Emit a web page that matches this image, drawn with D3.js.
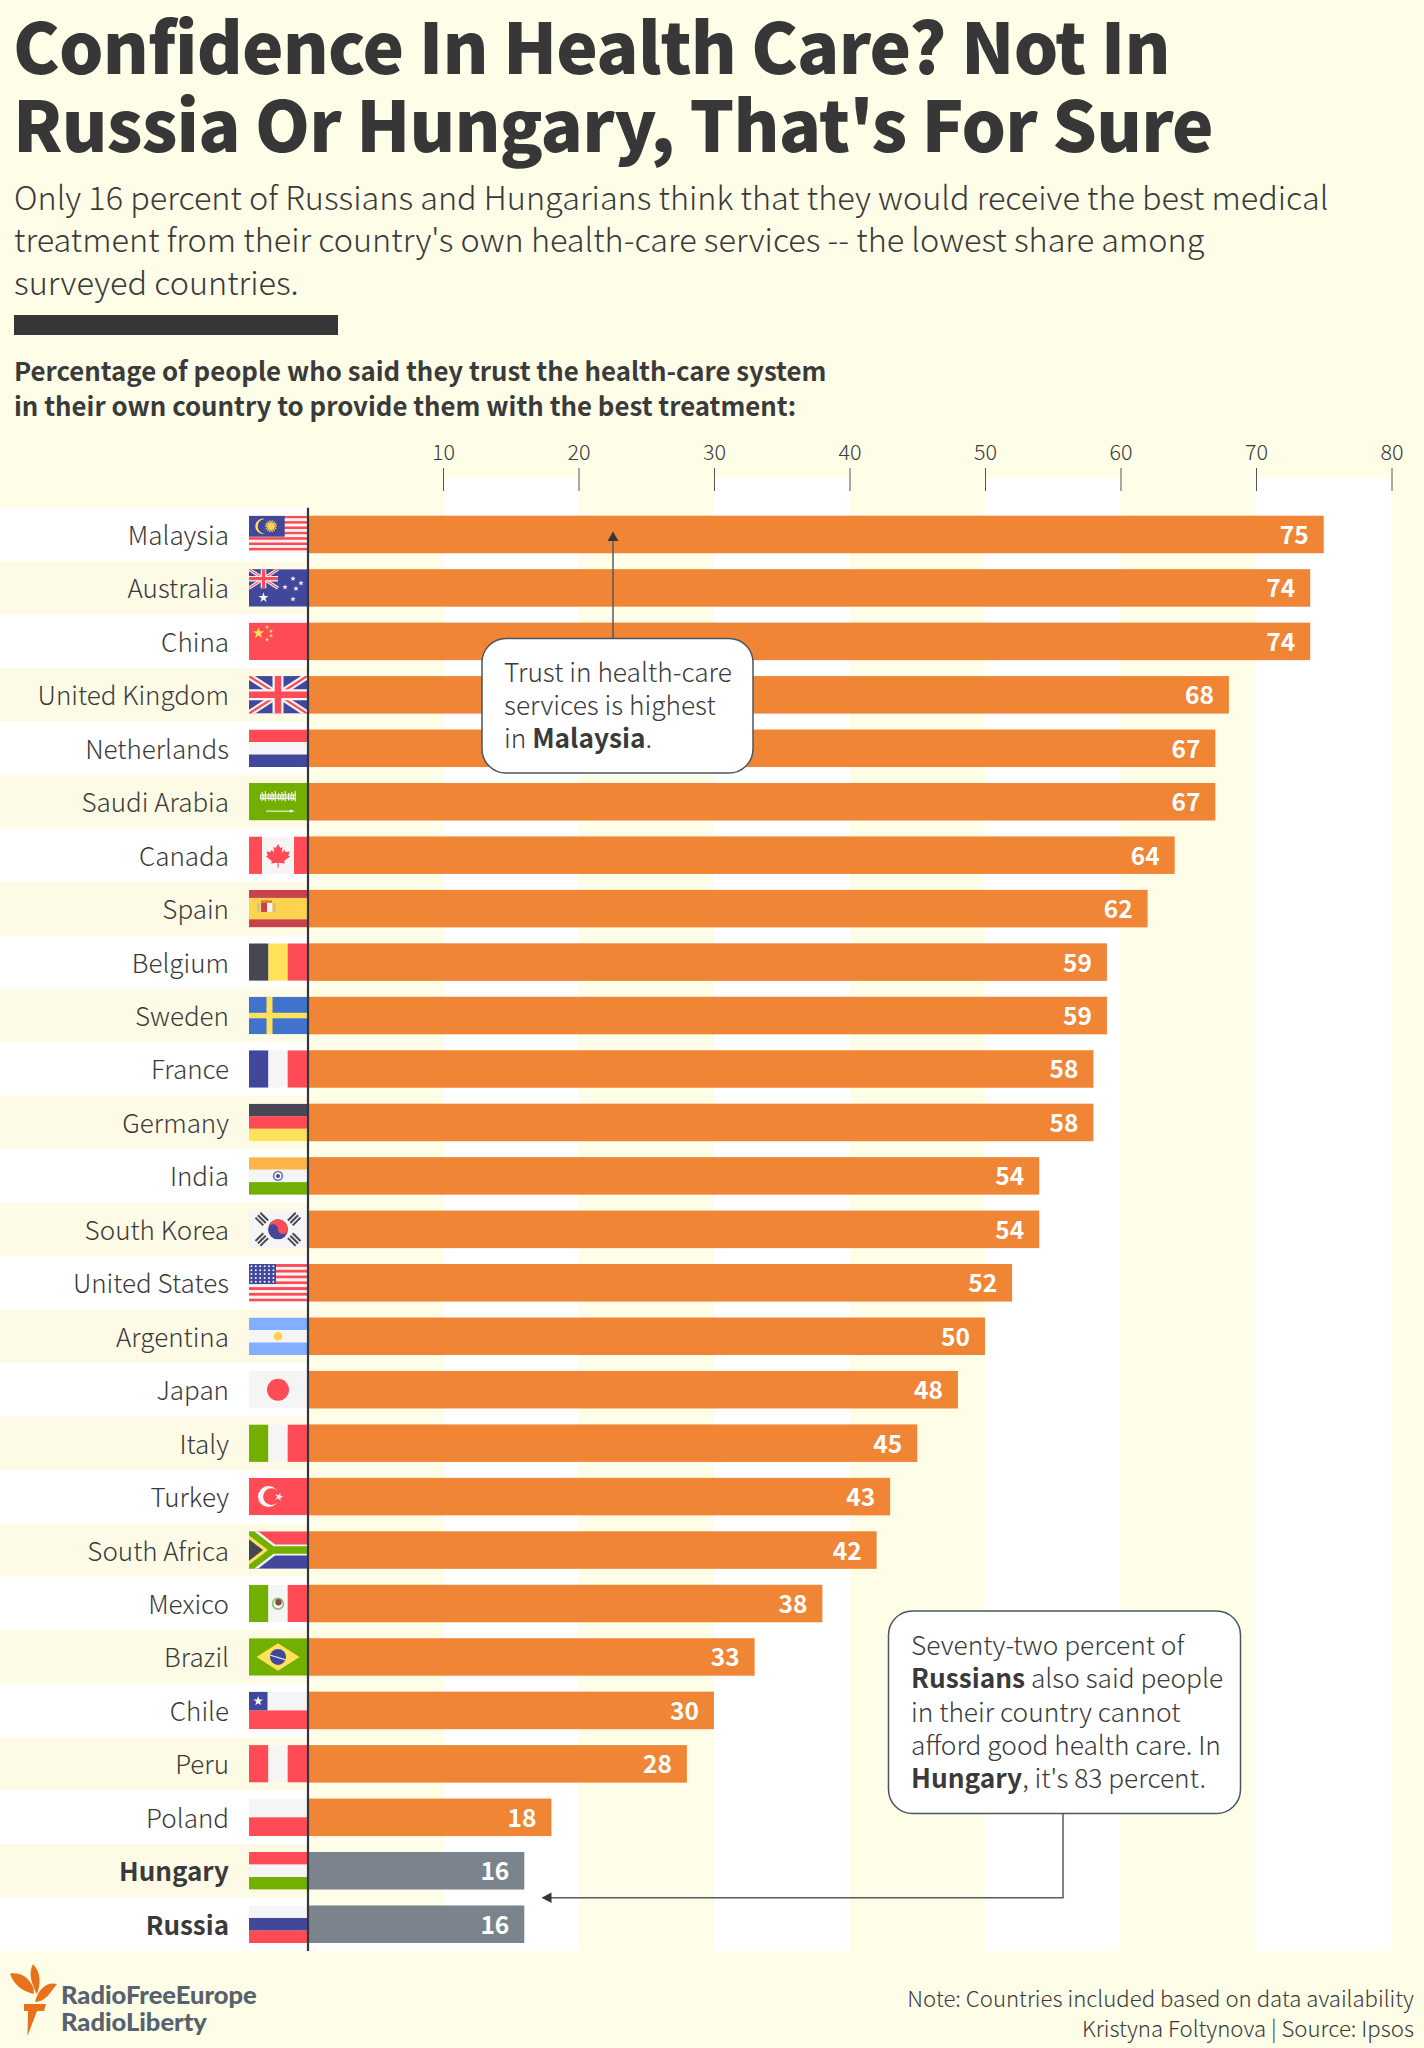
<!DOCTYPE html>
<html>
<head>
<meta charset="utf-8">
<script src="https://cdn.jsdelivr.net/npm/d3@7"></script>
<style>
  body { margin: 0; background: #fefde8; }
  text { font-family: "Noto Sans CJK SC", "Noto Sans", sans-serif; fill: #3a3a3a; }
  .light { font-weight: 300; }
  .strong { font-weight: 700; }
</style>
</head>
<body>
<div id="chart-area"></div>
<script>
// data
var countries = ["Malaysia","Australia","China","United Kingdom","Netherlands","Saudi Arabia","Canada","Spain","Belgium","Sweden","France","Germany","India","South Korea","United States","Argentina","Japan","Italy","Turkey","South Africa","Mexico","Brazil","Chile","Peru","Poland","Hungary","Russia"];
var values = [75,74,74,68,67,67,64,62,59,59,58,58,54,54,52,50,48,45,43,42,38,33,30,28,18,16,16];
var highlighted = ["Hungary","Russia"];
var ticks = [10,20,30,40,50,60,70,80];

var titleLines = ["Confidence In Health Care? Not In","Russia Or Hungary, That's For Sure"];
var subtitleLines = ["Only 16 percent of Russians and Hungarians think that they would receive the best medical","treatment from their country's own health-care services -- the lowest share among","surveyed countries."];
var headingLines = ["Percentage of people who said they trust the health-care system","in their own country to provide them with the best treatment:"];
var noteLines = ["Note: Countries included based on data availability","Kristyna Foltynova | Source: Ipsos"];
var note1 = [[["Trust in health-care",0]],[["services is highest",0]],[["in ",0],["Malaysia",1],[".",0]]];
var note2 = [[["Seventy-two percent of",0]],[["Russians",1],[" also said people",0]],[["in their country cannot",0]],[["afford good health care. In",0]],[["Hungary",1],[", it's 83 percent.",0]]];

var bg = "#fefde8", orange = "#ef8535", grey = "#7b838c", ink = "#3a3a3a";

var svg = d3.select("#chart-area").append("svg")
    .attr("width", 1424)
    .attr("height", 2048)
    .style("display", "block");

svg.append("rect").attr("width", 1424).attr("height", 2048).attr("fill", bg);

var x = d3.scaleLinear().domain([0, 80]).range([307.5, 1391.5]);
var y = d3.scaleBand().domain(countries).range([507.7, 1951]).paddingInner(0.298).paddingOuter(0.15);
var step = y.step();
var rowTop = (d) => y(d) - step * 0.149;

// header
svg.selectAll(".title").data(titleLines).enter().append("text")
    .attr("class", "title")
    .attr("x", 13)
    .attr("y", (d, i) => 74 + i * 78)
    .attr("font-size", 70)
    .attr("font-weight", 900)
    .attr("letter-spacing", -0.8)
    .style("fill", "#373737")
    .text((d) => d);

svg.selectAll(".sub").data(subtitleLines).enter().append("text")
    .attr("class", "sub light")
    .attr("x", 14)
    .attr("y", (d, i) => 209.5 + i * 42.7)
    .attr("font-size", 32.4)
    .text((d) => d);

svg.append("rect").attr("x", 14).attr("y", 315).attr("width", 324).attr("height", 20).attr("fill", "#373737");

svg.selectAll(".heading").data(headingLines).enter().append("text")
    .attr("class", "heading strong")
    .attr("x", 14)
    .attr("y", (d, i) => 381 + i * 34.5)
    .attr("font-size", 25.8)
    .text((d) => d);

// white column stripes, every other decade
svg.selectAll(".col").data(ticks.filter((d) => d % 20 == 0)).enter().append("rect")
    .attr("class", "col")
    .attr("x", (d) => x(d - 10))
    .attr("y", 478)
    .attr("width", (d) => x(d) - x(d - 10))
    .attr("height", 1951 - 478)
    .attr("fill", "#fff");

// label rows on the left
svg.selectAll(".row").data(countries).enter().append("rect")
    .attr("class", "row")
    .attr("x", 0)
    .attr("y", rowTop)
    .attr("width", 308)
    .attr("height", step)
    .attr("fill", (d, i) => i % 2 ? "#fdfbe6" : "#fff");

// under the last bar the first column is white too
svg.append("rect").attr("x", 308).attr("y", y("Russia") + y.bandwidth()).attr("width", x(10) - 308).attr("height", 1951 - y("Russia") - y.bandwidth()).attr("fill", "#fff");

// axis
var axis = svg.append("g")
    .attr("transform", "translate(0,491)")
    .call(d3.axisTop(x).tickValues(ticks).tickSize(23).tickPadding(8));
axis.select(".domain").remove();
axis.selectAll("line").attr("stroke", "#555");
axis.selectAll("text").attr("class", "light").attr("font-size", 21.5).style("fill", ink).style("font-family", null);

// bars
svg.selectAll(".bar").data(countries).enter().append("rect")
    .attr("class", "bar")
    .attr("x", x(0))
    .attr("y", (d) => y(d))
    .attr("width", (d, i) => x(values[i]) - x(0))
    .attr("height", y.bandwidth())
    .attr("fill", (d) => highlighted.includes(d) ? grey : orange);

svg.selectAll(".value").data(countries).enter().append("text")
    .attr("class", "value strong")
    .attr("x", (d, i) => x(values[i]) - 15)
    .attr("y", (d) => y(d) + y.bandwidth() / 2 + 9.5)
    .attr("text-anchor", "end")
    .attr("font-size", 24.5)
    .style("fill", "#fff")
    .text((d, i) => values[i]);

svg.selectAll(".label").data(countries).enter().append("text")
    .attr("class", (d) => "label " + (highlighted.includes(d) ? "strong" : "light"))
    .attr("x", 229)
    .attr("y", (d) => y(d) + y.bandwidth() / 2 + 10.5)
    .attr("text-anchor", "end")
    .attr("font-size", 26)
    .text((d) => d);

// flags, drawn in a 58 x 37.5 box
var RED = "#ff4b55", BLUE = "#41479b", WHITE = "#f5f5f5", GREEN = "#73af00", YELLOW = "#ffe15a", DARK = "#464655";
var W = 58, H = 37.5;

function box(g, x0, y0, w, h, fill) { g.append("rect").attr("x", x0).attr("y", y0).attr("width", w).attr("height", h).attr("fill", fill); }
function hbands(g, cols) { cols.forEach((c, i) => box(g, 0, i * H / cols.length, W, H / cols.length + 0.2, c)); }
function vbands(g, cols) { cols.forEach((c, i) => box(g, i * W / cols.length, 0, W / cols.length + 0.2, H, c)); }
function star(g, cx, cy, size, fill, rot) {
    g.append("path").attr("d", d3.symbol(d3.symbolStar, size)()).attr("fill", fill)
        .attr("transform", "translate(" + cx + "," + cy + ") rotate(" + (rot || 0) + ")");
}
function dot(g, cx, cy, r, fill) { g.append("circle").attr("cx", cx).attr("cy", cy).attr("r", r).attr("fill", fill); }
function line(g, x1, y1, x2, y2, col, w) { g.append("line").attr("x1", x1).attr("y1", y1).attr("x2", x2).attr("y2", y2).attr("stroke", col).attr("stroke-width", w); }
function shape(g, d, fill) { return g.append("path").attr("d", d).attr("fill", fill); }
function union(g, w, h) {
    box(g, 0, 0, w, h, BLUE);
    var s = h / 37.5;
    line(g, 0, 0, w, h, WHITE, 6.5 * s); line(g, w, 0, 0, h, WHITE, 6.5 * s);
    line(g, 0, 0, w, h, RED, 2.2 * s); line(g, w, 0, 0, h, RED, 2.2 * s);
    line(g, w / 2, 0, w / 2, h, WHITE, 11 * s); line(g, 0, h / 2, w, h / 2, WHITE, 11 * s);
    line(g, w / 2, 0, w / 2, h, RED, 6.5 * s); line(g, 0, h / 2, w, h / 2, RED, 6.5 * s);
}

var flags = {
    "Malaysia": (g) => {
        d3.range(14).forEach((i) => box(g, 0, i * H / 14, W, H / 14 + 0.1, i % 2 ? WHITE : RED));
        box(g, 0, 0, 35.7, 21, BLUE);
        shape(g, "M16 3.2 A7.6 7.6 0 1 0 16 17.8 A6.2 6.2 0 1 1 16 3.2Z", YELLOW);
        d3.range(14).forEach((i) => { var a = i * Math.PI / 7; line(g, 22, 10.5, 22 + 6 * Math.cos(a), 10.5 + 6 * Math.sin(a), "#ffd250", 1.2); });
        dot(g, 22, 10.5, 3.4, "#ffd250");
    },
    "Australia": (g) => {
        box(g, 0, 0, W, H, BLUE);
        union(g, 29, 19);
        star(g, 14.5, 28.5, 32, WHITE);
        [[44, 9.5], [36, 18], [52, 14], [47, 19.5], [44, 30]].forEach((p) => star(g, p[0], p[1], 10, WHITE));
    },
    "China": (g) => {
        box(g, 0, 0, W, H, RED);
        star(g, 9.5, 10.5, 40, "#ffe15a");
        [[18, 4.5], [22, 8.5], [22, 13], [18, 17]].forEach((p) => star(g, p[0], p[1], 6, "#ffe15a"));
    },
    "United Kingdom": (g) => union(g, W, H),
    "Netherlands": (g) => hbands(g, [RED, WHITE, BLUE]),
    "Saudi Arabia": (g) => {
        box(g, 0, 0, W, H, GREEN);
        // script band: staggered little strokes
        d3.range(22).forEach((i) => {
            var px = 11.5 + i * 1.65, tall = [3, 6, 4, 7, 2, 5][i % 6];
            line(g, px, 15 - tall, px, 15 + tall / 2, WHITE, 1.1);
        });
        line(g, 11, 12, 47, 12, WHITE, 1);
        line(g, 11, 15.5, 47, 15.5, WHITE, 1);
        box(g, 17, 27.6, 24, 1.1, WHITE);
        shape(g, "M41 26.6 L46 28.2 L41 29.6Z", WHITE);
    },
    "Canada": (g) => {
        box(g, 0, 0, W, H, WHITE);
        box(g, 0, 0, 13, H, RED);
        box(g, 45, 0, 13, H, RED);
        shape(g, "M29 7.5 L31.3 11.6 L33.6 10.6 L32.8 16.2 L35.6 13.4 L36.3 15.6 L40.5 15 L39.3 19 L41 20 L35.2 24.6 L35.8 27 L29.6 26.2 L29.6 31 L28.4 31 L28.4 26.2 L22.2 27 L22.8 24.6 L17 20 L18.7 19 L17.5 15 L21.7 15.6 L22.4 13.4 L25.2 16.2 L24.4 10.6 L26.7 11.6Z", RED);
    },
    "Spain": (g) => {
        box(g, 0, 0, W, H, "#c8414b");
        box(g, 0, 8, W, 21.5, "#ffd250");
        box(g, 12, 13, 6, 9, "#c8414b");
        box(g, 18, 13, 5, 9, "#f5f5f5");
        box(g, 8.5, 13, 1.8, 9, "#c8b4a0");
        box(g, 24.7, 13, 1.8, 9, "#c8b4a0");
        box(g, 12, 10.5, 11, 2.5, "#e0763c");
    },
    "Belgium": (g) => vbands(g, [DARK, YELLOW, RED]),
    "Sweden": (g) => {
        box(g, 0, 0, W, H, "#4173cd");
        box(g, 17.5, 0, 6, H, "#ffe15a");
        box(g, 0, 16, W, 5.5, "#ffe15a");
    },
    "France": (g) => vbands(g, [BLUE, WHITE, RED]),
    "Germany": (g) => hbands(g, [DARK, RED, YELLOW]),
    "India": (g) => {
        hbands(g, ["#ffb44a", WHITE, GREEN]);
        dot(g, 29, 18.75, 5.2, "#6a6fb8");
        dot(g, 29, 18.75, 3.6, WHITE);
        dot(g, 29, 18.75, 2, BLUE);
    },
    "South Korea": (g) => {
        box(g, 0, 0, W, H, WHITE);
        dot(g, 29, 18.75, 10, BLUE);
        shape(g, "M19 18.75 A10 10 0 0 1 39 18.75 A5 5 0 0 1 29 18.75 A5 5 0 0 0 19 18.75Z", RED);
        [[12.8, 8.5, 45], [45.2, 8.5, -45], [12.8, 29, -45], [45.2, 29, 45]].forEach((p) => {
            var t = g.append("g").attr("transform", "translate(" + p[0] + "," + p[1] + ") rotate(" + p[2] + ")");
            [-3.4, 0, 3.4].forEach((o) => box(t, -5.5, o - 1, 11, 2, "#464655"));
        });
    },
    "United States": (g) => {
        d3.range(13).forEach((i) => box(g, 0, i * H / 13, W, H / 13 + 0.1, i % 2 ? WHITE : RED));
        box(g, 0, 0, 27, 20, BLUE);
        d3.range(5).forEach((r) => d3.range(6).forEach((c) => dot(g, 2.4 + c * 4.4, 2.2 + r * 3.9, 1, WHITE)));
    },
    "Argentina": (g) => {
        hbands(g, ["#82afff", WHITE, "#82afff"]);
        dot(g, 29, 18.75, 4.4, "#ffd250");
    },
    "Japan": (g) => {
        box(g, 0, 0, W, H, WHITE);
        dot(g, 29, 18.75, 11, RED);
    },
    "Italy": (g) => vbands(g, [GREEN, WHITE, RED]),
    "Turkey": (g) => {
        box(g, 0, 0, W, H, RED);
        dot(g, 19.5, 18.75, 10.5, WHITE);
        dot(g, 22.5, 18.75, 8.4, RED);
        star(g, 30, 19, 22, WHITE, 18);
    },
    "South Africa": (g) => {
        box(g, 0, 0, W, H / 2, RED);
        box(g, 0, H / 2, W, H / 2, BLUE);
        shape(g, "M0 0 L9 0 L26 13.2 L58 13.2 L58 24.3 L26 24.3 L9 37.5 L0 37.5Z", WHITE);
        shape(g, "M0 0 L5 0 L24.5 15 L58 15 L58 22.5 L24.5 22.5 L5 37.5 L0 37.5Z", GREEN);
        shape(g, "M0 4 L19 18.75 L0 33.5Z", "#ffe15a");
        shape(g, "M0 8 L14 18.75 L0 29.5Z", DARK);
    },
    "Mexico": (g) => {
        vbands(g, [GREEN, WHITE, RED]);
        g.append("circle").attr("cx", 29).attr("cy", 19).attr("r", 5.4).attr("fill", "none").attr("stroke", "#8fbf70").attr("stroke-width", 1.6);
        dot(g, 29.5, 17.5, 3.2, "#8a4a4a");
    },
    "Brazil": (g) => {
        box(g, 0, 0, W, H, GREEN);
        shape(g, "M29 5 L50.5 18.75 L29 32.5 L7.5 18.75Z", "#ffe15a");
        dot(g, 29, 18.75, 8, BLUE);
        line(g, 21.5, 17, 36.5, 21.5, WHITE, 1.2);
    },
    "Chile": (g) => {
        box(g, 0, 0, W, H / 2, WHITE);
        box(g, 0, H / 2, W, H / 2, RED);
        box(g, 0, 0, 18.5, H / 2, BLUE);
        star(g, 9.2, 9.5, 30, WHITE);
    },
    "Peru": (g) => vbands(g, [RED, WHITE, RED]),
    "Poland": (g) => hbands(g, [WHITE, RED]),
    "Hungary": (g) => hbands(g, [RED, WHITE, GREEN]),
    "Russia": (g) => hbands(g, [WHITE, BLUE, RED])
};

svg.selectAll(".flag").data(countries).enter().append("g")
    .attr("class", "flag")
    .attr("transform", (d) => "translate(249," + y(d) + ")")
    .each(function (d) {
        var g = d3.select(this);
        var id = "clip-" + d.replace(/ /g, "");
        g.append("clipPath").attr("id", id).append("rect").attr("width", W).attr("height", H);
        flags[d](g.append("g").attr("clip-path", "url(#" + id + ")"));
    });

// baseline on top of flags
svg.append("line").attr("x1", 308).attr("x2", 308).attr("y1", 507.7).attr("y2", 1951).attr("stroke", "#33363f").attr("stroke-width", 2.2);

// callouts
function callout(x0, y0, w, h, lines, textX, firstY, dy, fontSize) {
    svg.append("rect").attr("x", x0).attr("y", y0).attr("width", w).attr("height", h)
        .attr("rx", 24).attr("fill", "#fff").attr("stroke", "#4d5560").attr("stroke-width", 1.5);
    var t = svg.append("g");
    lines.forEach((parts, i) => {
        var txt = t.append("text").attr("x", textX).attr("y", firstY + i * dy).attr("font-size", fontSize).style("white-space", "pre");
        parts.forEach((p) => txt.append("tspan").attr("class", p[1] ? "strong" : "light").text(p[0]));
    });
}
var leader = "#555b63";
svg.append("line").attr("x1", 613).attr("x2", 613).attr("y1", 638).attr("y2", 540).attr("stroke", leader).attr("stroke-width", 1.5);
shape(svg, "M613 531.5 L618.5 541 L607.5 541Z", "#33363f");
callout(482, 638.5, 271, 134.5, note1, 504, 681.7, 33.3, 26.3);

svg.append("path").attr("d", "M1063 1813 L1063 1897.7 L550 1897.7").attr("fill", "none").attr("stroke", leader).attr("stroke-width", 1.5);
shape(svg, "M541.5 1897.7 L551.5 1892.5 L551.5 1903Z", "#33363f");
callout(888.5, 1611, 352, 202.5, note2, 911, 1655, 33.3, 26.3);

// footer
svg.selectAll(".note").data(noteLines).enter().append("text")
    .attr("class", "note light")
    .attr("x", 1414)
    .attr("y", (d, i) => 2006.7 + i * 30)
    .attr("text-anchor", "end")
    .attr("font-size", 22.2)
    .text((d) => d);

// logo
var logo = svg.append("g").attr("transform", "translate(0,1950)");
var flame = "#e8721c";
shape(logo, "M10 23.5 C18 22 28 25 33.5 38 L34 44 C26 42 15 38 10 23.5Z", flame);
shape(logo, "M33 14 C41 22 41 34 37 44 L36 43 C34 36 27 26 33 14Z", flame);
shape(logo, "M57 34 C46 31 38 40 35 52 C45 52 50 43 57 34Z", flame);
shape(logo, "M24 54 L46 54 L44 61 L37 61 L27.5 86 L28 61 L24 61Z", flame);
var logoText = ["RadioFreeEurope","RadioLiberty"];
logo.selectAll(".logoText").data(logoText).enter().append("text")
    .attr("class", "logoText")
    .attr("x", 61)
    .attr("y", (d, i) => 53.5 + i * 27)
    .attr("font-size", 25.5)
    .attr("font-weight", 900)
    .style("font-family", "Lato")
    .style("fill", "#56626d")
    .text((d) => d);
</script>
</body>
</html>
